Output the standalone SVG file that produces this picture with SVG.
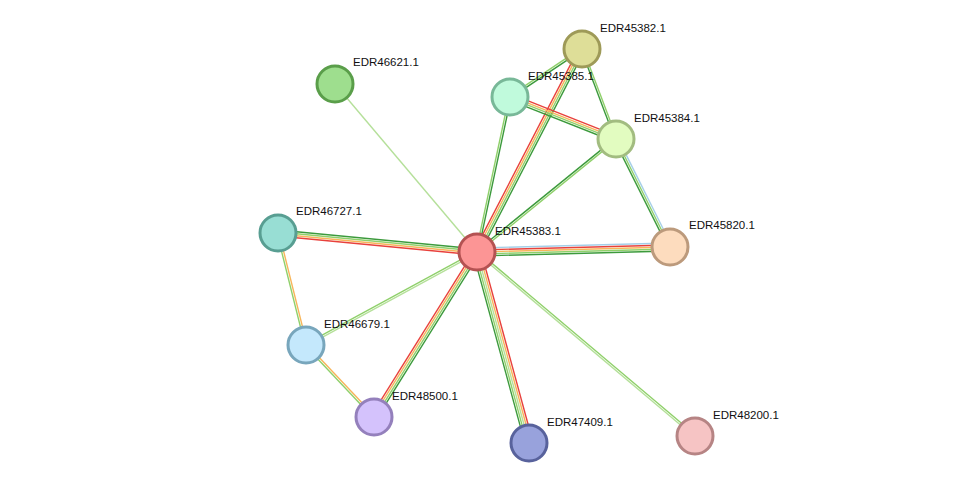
<svg xmlns="http://www.w3.org/2000/svg" width="976" height="489" viewBox="0 0 976 489">
<style>
line{stroke-width:1.4;fill:none}
.g{stroke:#3c9a3c}.l{stroke:#8fd06a}.p{stroke:#b5e09a}.o{stroke:#f7b55a}.r{stroke:#e8413c}.b{stroke:#a5cfe8}
circle{stroke-width:3}
text{font-family:"Liberation Sans",Arial,sans-serif;font-size:11.5px;fill:#111}
</style>
<rect width="976" height="489" fill="#fff"/>
<g id="edges">
<g transform="translate(477,252) rotate(-62.65)"><line class="r" x1="0" y1="-3" x2="228.5" y2="-3"/><line class="o" x1="0" y1="-1" x2="228.5" y2="-1"/><line class="l" x1="0" y1="1" x2="228.5" y2="1"/><line class="g" x1="0" y1="3" x2="228.5" y2="3"/></g>
<g transform="translate(477,252) rotate(-77.98)"><line class="l" x1="0" y1="-1" x2="158.5" y2="-1"/><line class="g" x1="0" y1="1" x2="158.5" y2="1"/></g>
<g transform="translate(477,252) rotate(-39.1)"><line class="l" x1="0" y1="1" x2="179" y2="1"/><line class="g" x1="0" y1="-1" x2="179" y2="-1"/></g>
<g transform="translate(477,252) rotate(-1.48)"><line class="b" x1="0" y1="-4" x2="193" y2="-4"/><line class="r" x1="0" y1="-2" x2="193" y2="-2"/><line class="o" x1="0" y1="0" x2="193" y2="0"/><line class="l" x1="0" y1="2" x2="193" y2="2"/><line class="g" x1="0" y1="4" x2="193" y2="4"/></g>
<g transform="translate(477,252) rotate(-130.2)"><line class="p" x1="0" y1="0" x2="220" y2="0"/></g>
<g transform="translate(477,252) rotate(185.45)"><line class="g" x1="0" y1="3" x2="200" y2="3"/><line class="l" x1="0" y1="1" x2="200" y2="1"/><line class="o" x1="0" y1="-1" x2="200" y2="-1"/><line class="r" x1="0" y1="-3" x2="200" y2="-3"/></g>
<g transform="translate(477,252) rotate(151.46)"><line class="l" x1="0" y1="1" x2="194.6" y2="1"/><line class="p" x1="0" y1="-1" x2="194.6" y2="-1"/></g>
<g transform="translate(477,252) rotate(121.97)"><line class="g" x1="0" y1="-3" x2="194.5" y2="-3"/><line class="l" x1="0" y1="-1" x2="194.5" y2="-1"/><line class="o" x1="0" y1="1" x2="194.5" y2="1"/><line class="r" x1="0" y1="3" x2="194.5" y2="3"/></g>
<g transform="translate(477,252) rotate(74.77)"><line class="g" x1="0" y1="4" x2="198" y2="4"/><line class="l" x1="0" y1="2" x2="198" y2="2"/><line class="p" x1="0" y1="0" x2="198" y2="0"/><line class="o" x1="0" y1="-2" x2="198" y2="-2"/><line class="r" x1="0" y1="-4" x2="198" y2="-4"/></g>
<g transform="translate(477,252) rotate(40.16)"><line class="l" x1="0" y1="-1" x2="285" y2="-1"/><line class="p" x1="0" y1="1" x2="285" y2="1"/></g>
<g transform="translate(510,97) rotate(-33.7)"><line class="l" x1="0" y1="-1" x2="86.5" y2="-1"/><line class="g" x1="0" y1="1" x2="86.5" y2="1"/></g>
<g transform="translate(510,97) rotate(21.6)"><line class="r" x1="0" y1="-3" x2="114" y2="-3"/><line class="o" x1="0" y1="-1" x2="114" y2="-1"/><line class="l" x1="0" y1="1" x2="114" y2="1"/><line class="g" x1="0" y1="3" x2="114" y2="3"/></g>
<g transform="translate(582,49) rotate(69.3)"><line class="l" x1="0" y1="-1" x2="96" y2="-1"/><line class="g" x1="0" y1="1" x2="96" y2="1"/></g>
<g transform="translate(616,139) rotate(63.43)"><line class="b" x1="0" y1="-2" x2="120.7" y2="-2"/><line class="l" x1="0" y1="0" x2="120.7" y2="0"/><line class="g" x1="0" y1="2" x2="120.7" y2="2"/></g>
<g transform="translate(278,233) rotate(75.96)"><line class="o" x1="0" y1="-1" x2="115.4" y2="-1"/><line class="l" x1="0" y1="1" x2="115.4" y2="1"/></g>
<g transform="translate(306,345) rotate(46.64)"><line class="o" x1="0" y1="-1" x2="99" y2="-1"/><line class="l" x1="0" y1="1" x2="99" y2="1"/></g>
</g>
<g id="EDR46621.1"><circle cx="335" cy="84" r="18" fill="#9ede8e" stroke="#5a9e4a"/><text x="353" y="66">EDR46621.1</text></g>
<g id="EDR45382.1"><circle cx="582" cy="49" r="18" fill="#dede98" stroke="#9e9a58"/><text x="600" y="32">EDR45382.1</text></g>
<g id="EDR45385.1"><circle cx="510" cy="97" r="18" fill="#c0fadc" stroke="#78b898"/><text x="528" y="80">EDR45385.1</text></g>
<g id="EDR45384.1"><circle cx="616" cy="139" r="18" fill="#e2fcc0" stroke="#a2bc80"/><text x="634" y="122">EDR45384.1</text></g>
<g id="EDR45820.1"><circle cx="670" cy="247" r="18" fill="#fddcbe" stroke="#bc9a7c"/><text x="689" y="229">EDR45820.1</text></g>
<g id="EDR45383.1"><circle cx="477" cy="252" r="18" fill="#fc9595" stroke="#b45252"/><text x="495" y="235">EDR45383.1</text></g>
<g id="EDR46727.1"><circle cx="278" cy="233" r="18" fill="#98ded4" stroke="#589e92"/><text x="296" y="215">EDR46727.1</text></g>
<g id="EDR46679.1"><circle cx="306" cy="345" r="18" fill="#c4e8fc" stroke="#78a6bc"/><text x="324" y="328">EDR46679.1</text></g>
<g id="EDR48500.1"><circle cx="374" cy="417" r="18" fill="#d4c2fc" stroke="#9480bc"/><text x="392" y="400">EDR48500.1</text></g>
<g id="EDR47409.1"><circle cx="529" cy="443" r="18" fill="#98a2dc" stroke="#58629c"/><text x="547" y="426">EDR47409.1</text></g>
<g id="EDR48200.1"><circle cx="695" cy="436" r="18" fill="#f6c4c4" stroke="#b68484"/><text x="713" y="419">EDR48200.1</text></g>
</svg>
